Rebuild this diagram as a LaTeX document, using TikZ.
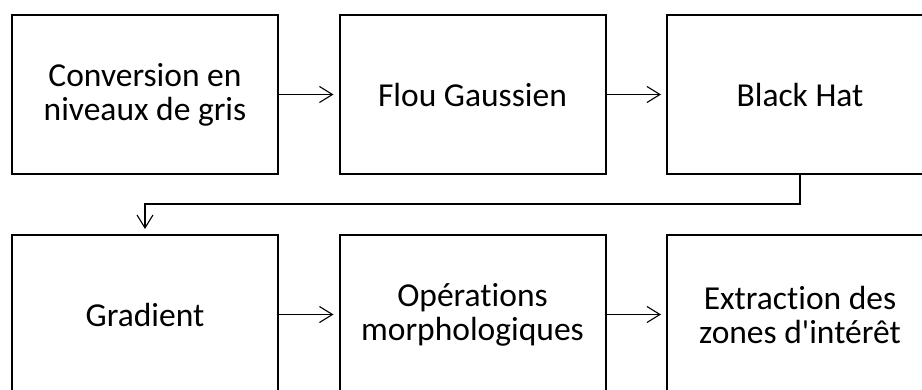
\documentclass[tikz,border=0pt]{standalone}
\usepackage{fontspec}
\setmainfont{Carlito}[Ligatures={NoCommon,NoRequired,NoContextual}]
\usetikzlibrary{arrows.meta}
\begin{document}
\begin{tikzpicture}[x=1pt,y=-1pt,
  stepbox/.style={draw=black, line width=2pt, rectangle, minimum width=266pt, minimum height=159pt,
    align=center, inner sep=0pt, font=\fontsize{33.5pt}{34pt}\selectfont},
  conn/.style={draw=black, line width=1.1pt, shorten >=5pt,
    -{Straight Barb[length=13pt,width=16pt,line width=1.1pt]}}]
\path[use as bounding box, clip] (0,0) rectangle (922,390);
\node[stepbox] (a) at (145,94.5) {Conversion en\\niveaux de gris};
\node[stepbox] (b) at (472.5,94.5) {Flou Gaussien};
\node[stepbox] (c) at (800,94.5) {Black Hat};
\node[stepbox] (d) at (145,314.5) {Gradient};
\node[stepbox] (e) at (472.5,314.5) {Opérations\\morphologiques};
\node[stepbox] (f) at (800,314.5) {Extraction des\\zones d\textquotesingle intérêt};
\coordinate (k1) at (800,204);
\coordinate (k2) at (145,204);
\draw[conn] (a.east) -- (b.west);
\draw[conn] (b.east) -- (c.west);
\draw[conn] (c.south) -- (k1) -- (k2) -- (d.north);
\draw[conn] (d.east) -- (e.west);
\draw[conn] (e.east) -- (f.west);
\end{tikzpicture}
\end{document}
